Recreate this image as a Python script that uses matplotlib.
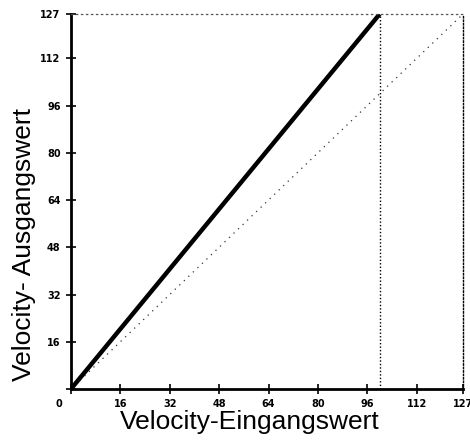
import matplotlib.pyplot as plt

# velocity curve: input -> output
vel_in = [0, 100]
vel_out = [0, 127]
lin_in = [0, 127]
lin_out = [0, 127]
limit_x = 100
ticks = [0, 16, 32, 48, 64, 80, 96, 112, 127]

fig = plt.figure(figsize=(4.7, 4.41), dpi=100)
ax = fig.add_axes([0.151, 0.118, 0.834, 0.850])

ax.plot(lin_in, lin_out, color='#333333', lw=0.9, ls=(0, (1, 4)))
ax.plot([limit_x, limit_x], [0, 127], color='black', lw=1.0, ls=(0, (1, 1.5)))
ax.plot(vel_in, vel_out, color='black', lw=3.2, solid_capstyle='butt')

tick_font = dict(family='DejaVu Sans', fontweight='bold', fontsize=7)
ax.set_xlim(0, 127)
ax.set_ylim(0, 127)
ax.set_xticks(ticks)
ax.set_yticks(ticks)
ax.set_xticklabels(['' if t == 0 else str(t) for t in ticks], **tick_font)
ax.set_yticklabels(['' if t == 0 else str(t) for t in ticks], **tick_font)
ax.tick_params(direction='inout', length=7, width=1.2, pad=4)
ax.tick_params(axis='x', pad=3.5)
# shared zero sits left of the origin
ax.text(-3.8, -3.4, '0', ha='center', va='top', **tick_font)

for s in ['left', 'bottom']:
    ax.spines[s].set_linewidth(2)
ax.spines['right'].set_linewidth(1.0)
ax.spines['right'].set_linestyle((0, (1, 1.5)))
ax.spines['top'].set_linewidth(0.9)
ax.spines['top'].set_color('#555555')
ax.spines['top'].set_linestyle((0, (1, 3)))

ax.set_xlabel('Velocity-Eingangswert', family='Liberation Sans', fontsize=19)
ax.set_ylabel('Velocity- Ausgangswert', family='Liberation Sans', fontsize=19)
ax.xaxis.set_label_coords(0.457, -0.055)
ax.yaxis.set_label_coords(-0.12, 0.385)
ax.xaxis.label.set_va('top')
ax.yaxis.label.set_va('center')

fig.savefig('out.png', dpi=100)
